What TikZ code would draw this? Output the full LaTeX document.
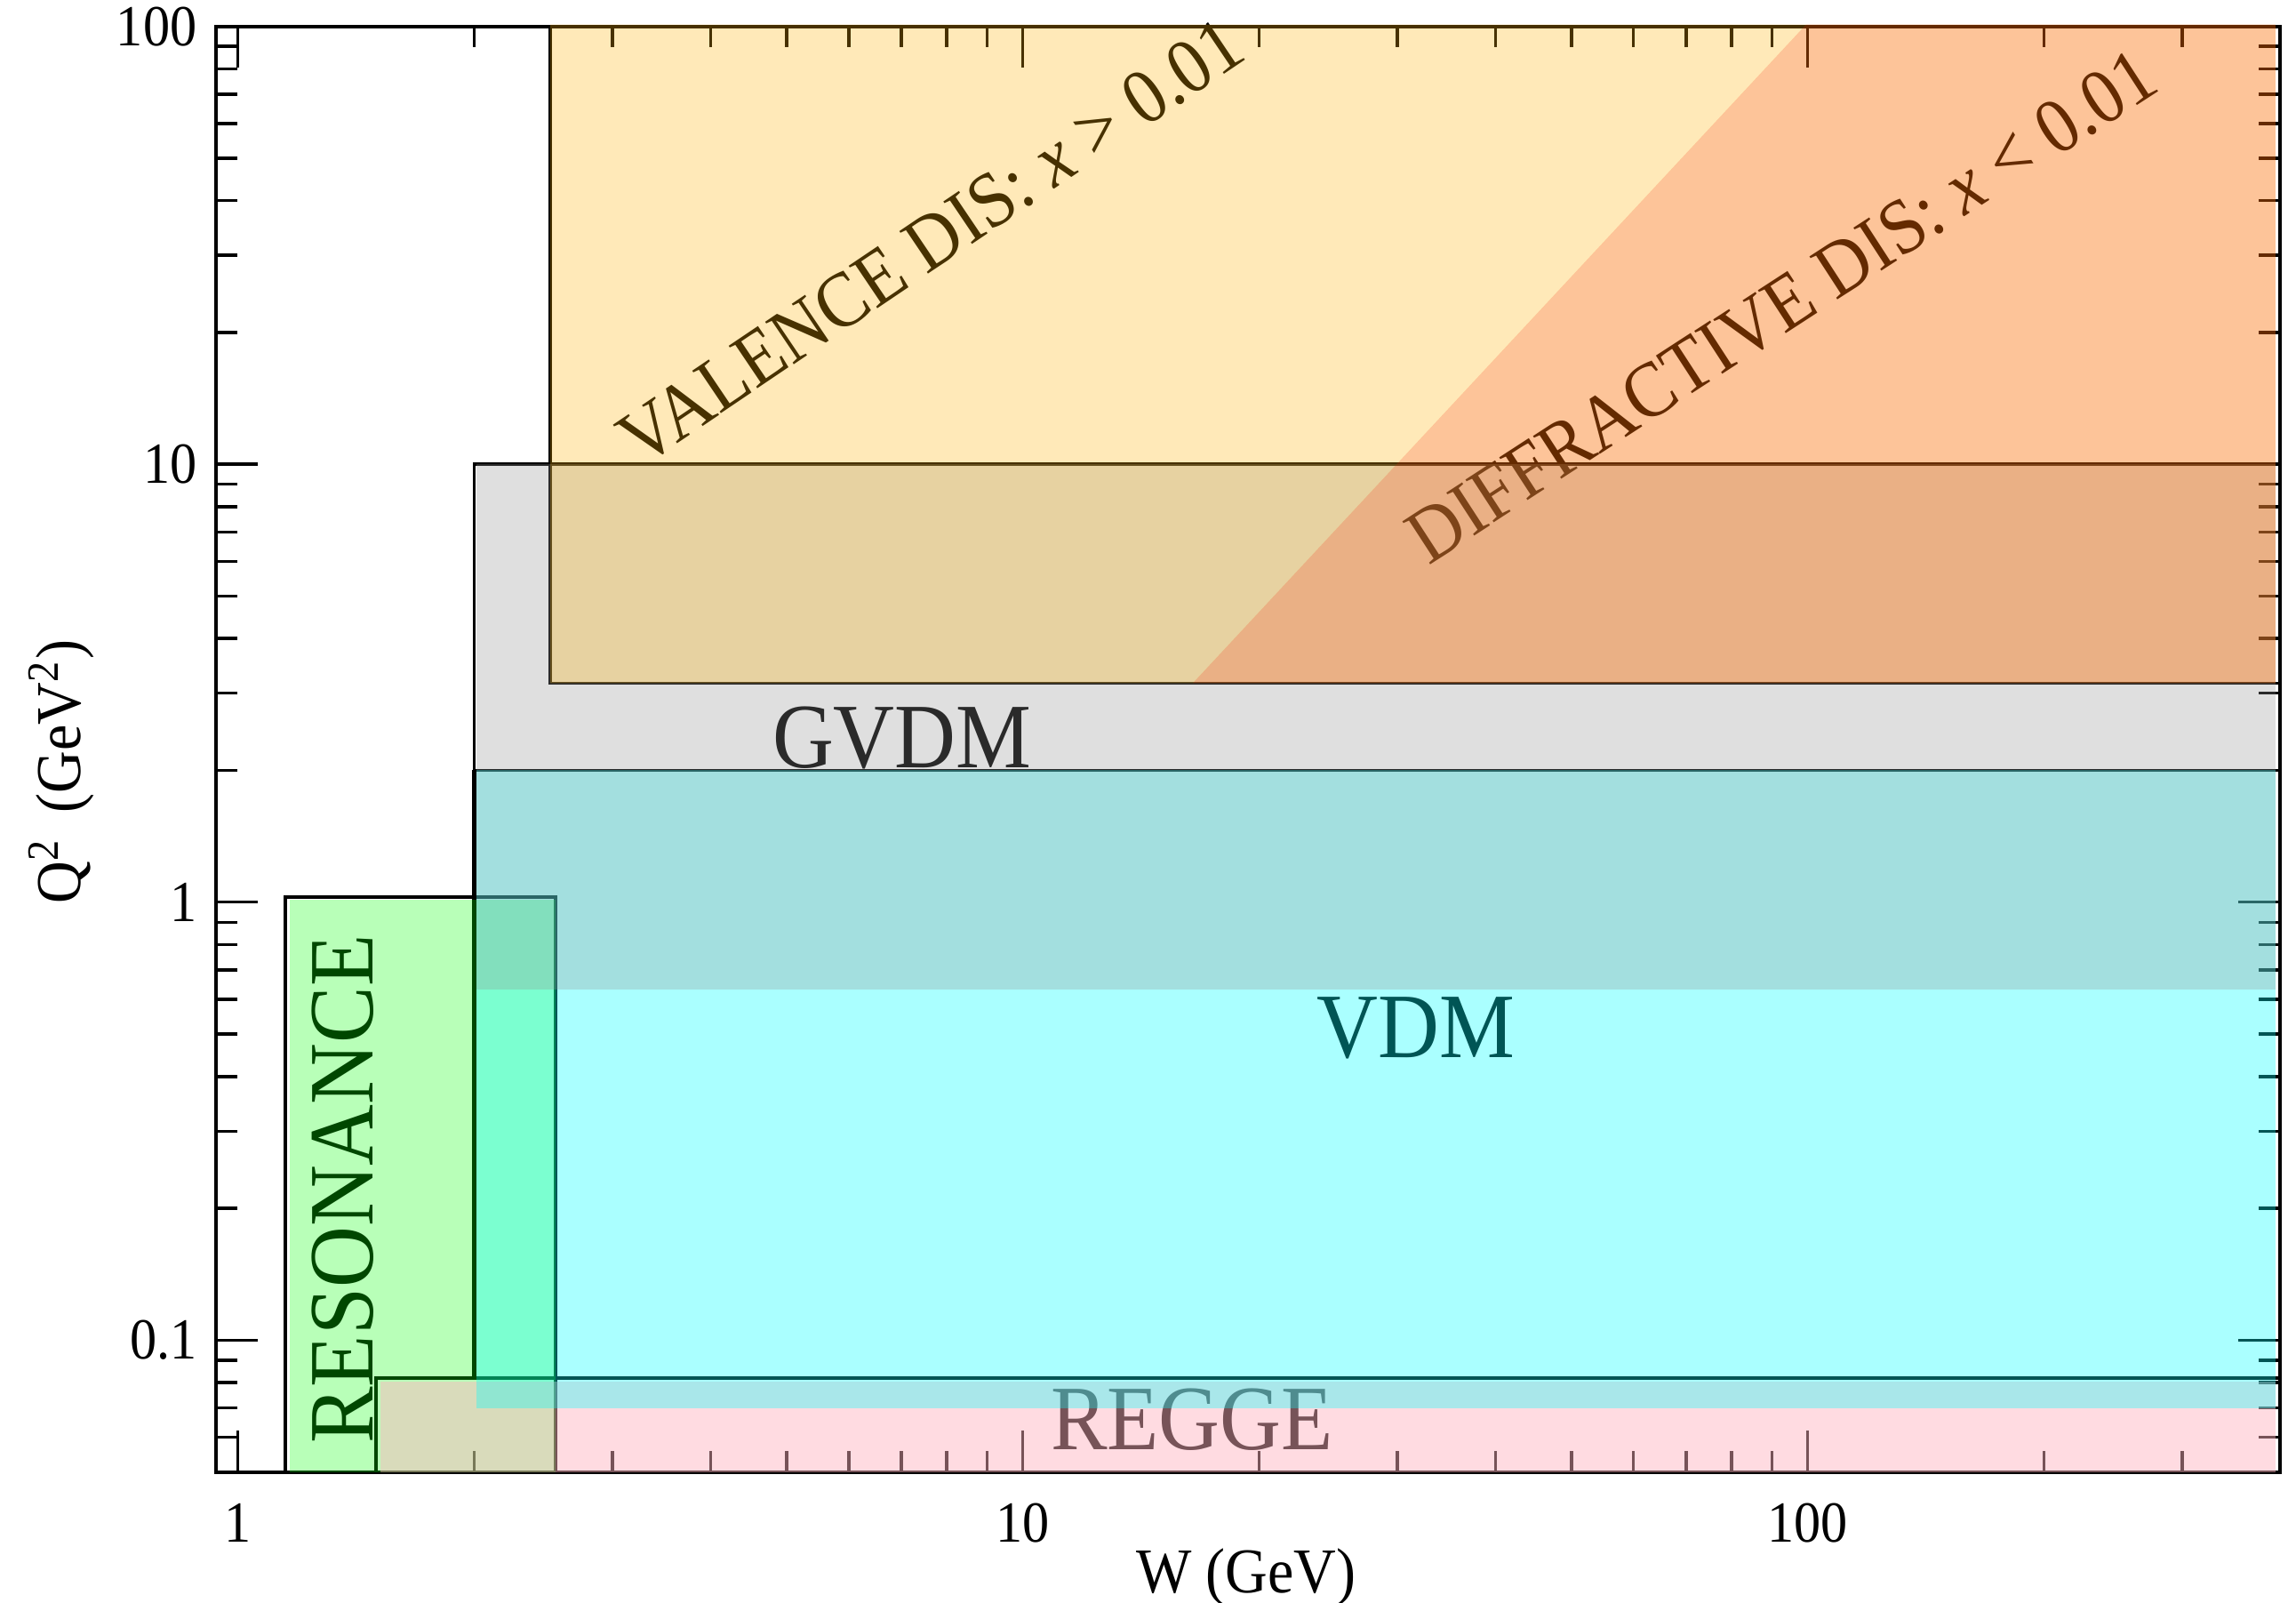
\documentclass[tikz,border=0pt]{standalone}
\usepackage{fontspec}
\setmainfont{Liberation Serif}[FakeStretch=0.92]
\usepackage{tikz}

\definecolor{resgreen}{RGB}{0,255,0}
\definecolor{reggepink}{RGB}{255,178,190}
\definecolor{vdmcyan}{RGB}{0,255,255}
\definecolor{gvdmgray}{RGB}{146,146,146}
\definecolor{valyellow}{RGB}{255,176,0}
\definecolor{difforange}{RGB}{250,107,0}

\newcommand{\regionFont}[0]{\fontsize{17.9pt}{19pt}\selectfont}
\newcommand{\slantFont}[0]{\fontsize{15.2pt}{17pt}\selectfont}
\newcommand{\tickFont}[0]{\fontsize{11.3pt}{13pt}\selectfont}
\newcommand{\axisFont}[0]{\fontsize{12.4pt}{14pt}\selectfont}

\begin{document}
\begin{tikzpicture}[x=5.36cm, y=2.99cm]
  % x = log10(W), y = log10(Q^2)
  \tikzset{frameline/.style={line width=0.7pt},
           tickline/.style={line width=0.6pt},
           boxline/.style={line width=0.65pt},
           region/.style={font=\regionFont, inner sep=0pt},
           slanted/.style={font=\slantFont, inner sep=0pt, rotate=33, anchor=base},
           ticklabel/.style={font=\tickFont, inner sep=0pt}}
  \useasboundingbox (-0.30317,-1.59866) rectangle (2.62220,2.06020);

  % labels and lines go first, the shaded regions are laid over them
  \node[region, anchor=base] (gvdm) at (0.846,0.3077) {GVDM};
  \node[region, anchor=base] (vdm) at (1.501,-0.3545) {VDM};
  \node[region, anchor=base] (regge) at (1.2155,-1.251) {REGGE};
  \node[region, anchor=base, rotate=90] (resonance) at (0.172,-0.6555) {RESONANCE};
  \node[slanted, rotate=1] (valence) at (0.901,1.460) {VALENCE DIS: \textit{x} > 0.01};
  \node[slanted] (diffractive) at (1.9841,1.3127) {DIFFRACTIVE DIS: \textit{x} < 0.01};

  \draw[boxline] (0.0607,-1.301) rectangle (0.4049,0.012);
  \draw[boxline] (0.176,-1.301) |- (2.602,-1.0873);
  \draw[boxline, line width=0.9pt] (0.301,-1.0873) -- (0.301,0.301);
  \draw[boxline] (0.301,0.301) -- (2.602,0.301);
  \draw[boxline] (0.301,0.301) |- (2.602,1);
  \draw[boxline] (0.398,2) |- (2.602,0.5);

  % frame and ticks
  \draw[frameline] (-0.0278,-1.301) rectangle (2.602,2);
  \foreach \d in {0,1,2} {
    \draw[tickline] (\d,-1.301) -- ++(0,0.095);
    \draw[tickline] (\d,2) -- ++(0,-0.095);
    \foreach \m in {2,...,9} {
      \pgfmathsetmacro{\lx}{\d+ln(\m)/ln(10)}
      \ifdim \lx pt < 2.59pt
        \draw[tickline] (\lx,-1.301) -- ++(0,0.047);
        \draw[tickline] (\lx,2) -- ++(0,-0.047);
      \fi
    }
  }
  \foreach \d in {-1,0,1} {
    \draw[tickline] (-0.0278,\d) -- ++(0.053,0);
    \draw[tickline] (2.602,\d) -- ++(-0.053,0);
  }
  \foreach \d in {-2,-1,0,1} {
    \foreach \m in {2,...,9} {
      \pgfmathsetmacro{\ly}{\d+ln(\m)/ln(10)}
      \ifdim \ly pt > -1.29pt
        \draw[tickline] (-0.0278,\ly) -- ++(0.027,0);
        \draw[tickline] (2.602,\ly) -- ++(-0.027,0);
      \fi
    }
  }

  \foreach \v/\t in {0/1,1/10,2/100}
    \node[ticklabel, anchor=base] (xtick\v) at (\v,-1.4615) {\t};
  \foreach \v/\t/\n in {-1/0.1/a,0/1/b,1/10/c,2/100/d}
    \node[ticklabel, anchor=east] (ytick\n) at (-0.0513,\v) {\t};
  \node[font=\axisFont, inner sep=0pt] (wlabel) at (1.2845,-1.5418) {W (GeV)};
  \node[font=\axisFont, inner sep=0pt, rotate=90] (qlabel) at (-0.2248,0.2977)
    {Q\textsuperscript{2} \,(GeV\textsuperscript{2})};

  % shaded regions
  \fill[resgreen, fill opacity=0.28] (0.0657,-1.301) rectangle (0.4049,0.006);
  \fill[reggepink, fill opacity=0.465] (0.181,-1.301) rectangle (2.596,-1.094);
  \fill[vdmcyan, fill opacity=0.333] (0.304,-1.155) rectangle (2.596,0.301);
  \fill[gvdmgray, fill opacity=0.294] (0.304,-0.2) rectangle (2.596,1);
  \fill[valyellow, fill opacity=0.28] (0.398,0.5) -- (1.2166,0.5) -- (1.998,2.004)
    -- (0.398,2.004) -- cycle;
  \fill[difforange, fill opacity=0.4] (1.2166,0.5) -- (2.596,0.5) -- (2.596,2.004)
    -- (1.998,2.004) -- cycle;
\end{tikzpicture}
\end{document}
